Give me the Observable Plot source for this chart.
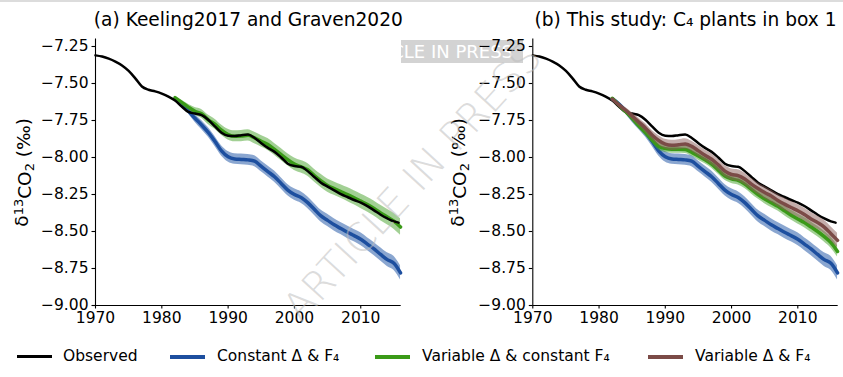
<!DOCTYPE html>
<html>
<head>
<meta charset="utf-8">
<script src="https://cdn.jsdelivr.net/npm/d3@7"></script>
<script src="https://cdn.jsdelivr.net/npm/@observablehq/plot@0.6"></script>
<style>
  html, body { margin: 0; padding: 0; background: #fff; }
  #wrap { position: relative; width: 843px; height: 377px; overflow: hidden; font-family: "DejaVu Sans", sans-serif; }
  .abs { position: absolute; }
  .leg-text { position: absolute; font-size: 15.5px; line-height: 16px; color: #000; white-space: nowrap; font-family: "DejaVu Sans"; }
  .leg-line { position: absolute; }
</style>
</head>
<body>
<div id="wrap"></div>
<script>
// ---------------- data ----------------
const obsYears = [1970,1971,1972,1973,1974,1975,1976,1977,1978,1979,1980,1981,1982,1983,1984,1985,1986,1987,1988,1989,1990,1991,1992,1993,1994,1995,1996,1997,1998,1999,2000,2001,2002,2003,2004,2005,2006,2007,2008,2009,2010,2011,2012,2013,2014,2015,2015.7];
const observed = [-7.31,-7.318,-7.332,-7.352,-7.378,-7.415,-7.465,-7.52,-7.542,-7.553,-7.568,-7.588,-7.615,-7.655,-7.692,-7.703,-7.714,-7.745,-7.79,-7.833,-7.853,-7.855,-7.849,-7.845,-7.868,-7.903,-7.935,-7.962,-8.0,-8.042,-8.058,-8.062,-8.092,-8.132,-8.17,-8.197,-8.222,-8.247,-8.267,-8.287,-8.305,-8.328,-8.357,-8.387,-8.412,-8.432,-8.44];

const modelYears = [1982,1983,1984,1985,1986,1987,1988,1989,1990,1991,1992,1993,1994,1995,1996,1997,1998,1999,2000,2001,2002,2003,2004,2005,2006,2007,2008,2009,2010,2011,2012,2013,2014,2015,2016];

// Constant Δ & F4 (same in both panels)
const constantDF = [-7.603,-7.638,-7.685,-7.735,-7.78,-7.83,-7.89,-7.955,-7.995,-8.01,-8.013,-8.016,-8.025,-8.06,-8.095,-8.13,-8.175,-8.22,-8.25,-8.27,-8.305,-8.35,-8.395,-8.425,-8.455,-8.48,-8.505,-8.528,-8.552,-8.585,-8.618,-8.655,-8.69,-8.715,-8.78];
const constantDFSpread = [0.006,0.014,0.02,0.026,0.03,0.032,0.034,0.035,0.036,0.036,0.036,0.036,0.037,0.037,0.037,0.038,0.038,0.038,0.039,0.039,0.039,0.04,0.04,0.041,0.041,0.041,0.042,0.042,0.043,0.043,0.044,0.045,0.046,0.047,0.048];

// Variable Δ & constant F4 — panel (a) Keeling2017 and Graven2020
const varDconstF_a = [-7.595,-7.628,-7.66,-7.688,-7.705,-7.745,-7.775,-7.815,-7.845,-7.857,-7.855,-7.85,-7.868,-7.89,-7.912,-7.945,-7.98,-8.015,-8.045,-8.063,-8.083,-8.122,-8.158,-8.19,-8.21,-8.23,-8.25,-8.272,-8.295,-8.318,-8.345,-8.375,-8.402,-8.43,-8.47];
const varDconstF_aSpread = [0.006,0.014,0.02,0.026,0.03,0.032,0.034,0.035,0.036,0.037,0.038,0.038,0.039,0.039,0.04,0.04,0.041,0.041,0.042,0.042,0.043,0.043,0.044,0.044,0.045,0.046,0.047,0.048,0.049,0.05,0.051,0.052,0.053,0.054,0.056];

// Variable Δ & constant F4 — panel (b) this study
const varDconstF_b = [-7.6,-7.645,-7.69,-7.735,-7.785,-7.83,-7.88,-7.925,-7.94,-7.945,-7.945,-7.946,-7.965,-7.99,-8.015,-8.045,-8.085,-8.125,-8.145,-8.155,-8.18,-8.215,-8.25,-8.28,-8.305,-8.33,-8.36,-8.39,-8.415,-8.44,-8.47,-8.5,-8.535,-8.575,-8.635];
const varDconstF_bSpread = [0.005,0.01,0.014,0.018,0.021,0.023,0.024,0.025,0.026,0.026,0.027,0.027,0.027,0.028,0.028,0.028,0.029,0.029,0.03,0.03,0.03,0.031,0.031,0.032,0.032,0.032,0.033,0.033,0.034,0.034,0.035,0.035,0.036,0.037,0.038];

// Variable Δ & F4 — panel (b)
const varDF = [-7.605,-7.645,-7.68,-7.72,-7.76,-7.8,-7.848,-7.885,-7.91,-7.918,-7.914,-7.908,-7.925,-7.955,-7.985,-8.012,-8.05,-8.092,-8.115,-8.122,-8.145,-8.18,-8.21,-8.237,-8.26,-8.29,-8.315,-8.338,-8.36,-8.385,-8.415,-8.44,-8.47,-8.515,-8.56];
const varDFSpread = [0.006,0.012,0.018,0.023,0.026,0.029,0.031,0.032,0.033,0.034,0.034,0.035,0.035,0.036,0.036,0.037,0.037,0.038,0.038,0.039,0.039,0.04,0.04,0.041,0.041,0.042,0.042,0.043,0.043,0.044,0.044,0.045,0.046,0.047,0.048];

const xTicks = [1970,1980,1990,2000,2010];
const yTicks = [-7.25,-7.5,-7.75,-8.0,-8.25,-8.5,-8.75,-9.0];
const titleA = "(a) Keeling2017 and Graven2020";
const titleB = "(b) This study: C\u2084 plants in box 1";
const yLabel = "\u03b4\u00b9\u00b3CO\u2082 (\u2030)";
const legendLabels = ["Observed", "Constant \u0394 & F\u2084", "Variable \u0394 & constant F\u2084", "Variable \u0394 & F\u2084"];

// ---------------- styling ----------------
const C = {
  obs: "#000000",
  blue: "#1d4f9f", blueBand: "#2a5daa",
  green: "#3a9a18", greenBand: "#46a12a",
  brown: "#7b4b47", brownBand: "#8a5b57"
};
const TICK_FS = 15.5;
const fmtY = d3.format(".2f");

const obsData = obsYears.map((x, i) => ({x, y: observed[i]}));
const mk = (vals, spread) => modelYears.map((x, i) => ({x, y: vals[i], lo: vals[i] - spread[i], hi: vals[i] + spread[i]}));
const blueData = mk(constantDF, constantDFSpread);
const greenA = mk(varDconstF_a, varDconstF_aSpread);
const greenB = mk(varDconstF_b, varDconstF_bSpread);
const brownData = mk(varDF, varDFSpread);

const curve = "monotone-x";
function band(data, fill, op) { return Plot.areaY(data, {x: "x", y1: "lo", y2: "hi", fill, fillOpacity: op, curve}); }
function line(data, stroke, w) { return Plot.line(data, {x: "x", y: "y", stroke, strokeWidth: w, curve}); }

function panel(opts) {
  const {width, marginLeft, marginRight, title, ylabelX, marks} = opts;
  const svg = Plot.plot({
    width, height: 330,
    marginLeft, marginRight, marginTop: 38.6, marginBottom: 25,
    style: {fontFamily: "DejaVu Sans", fontSize: "15.5px", background: "transparent", color: "#000", overflow: "visible"},
    x: {domain: [1970, 2016.1], label: null},
    y: {domain: [-9, -7.2], label: null},
    marks: [
      ...marks,
      Plot.axisX({ticks: xTicks, tickFormat: () => "", tickSize: 3.5, label: null, stroke: "#000", strokeWidth: 1.1}),
      Plot.axisY({ticks: yTicks, tickFormat: () => "", tickSize: 3.5, label: null, stroke: "#000", strokeWidth: 1.1}),
      Plot.text(xTicks, {x: d => d, frameAnchor: "bottom", lineAnchor: "top", dy: 6.5, text: d => String(d), fontSize: TICK_FS, fill: "#000"}),
      Plot.text(yTicks, {y: d => d, frameAnchor: "left", textAnchor: "end", lineAnchor: "middle", dx: -7, text: d => fmtY(d), fontSize: TICK_FS, fill: "#000"}),
      Plot.ruleX([1970], {stroke: "#000", strokeWidth: 1.1}),
      Plot.ruleY([-9], {stroke: "#000", strokeWidth: 1.1}),
      Plot.text([title], {frameAnchor: "top", lineAnchor: "bottom", dy: -12.6, fontSize: 18.6, fill: "#000"}),
      Plot.text([yLabel], {frameAnchor: "left", textAnchor: "middle", lineAnchor: "middle", rotate: -90, dx: ylabelX - marginLeft, fontSize: 18.5, fill: "#000"})
    ]
  });
  // typeset the y label with real super/subscripts (still text)
  svg.querySelectorAll("text").forEach(t => {
    if (t.textContent === yLabel) {
      t.textContent = "";
      const parts = [["\u03b4", 0, null], ["13", -0.42, "70%"], ["CO", 0.42, null], ["2", 0.22, "70%"], [" (\u2030)", -0.22, null]];
      for (const [s, dy, fs] of parts) {
        const ts = document.createElementNS("http://www.w3.org/2000/svg", "tspan");
        ts.textContent = s;
        if (dy) ts.setAttribute("dy", dy + "em");
        if (fs) ts.setAttribute("font-size", fs);
        t.appendChild(ts);
      }
    }
  });
  return svg;
}

const wrap = document.getElementById("wrap");

// top grey strip
const strip = document.createElement("div");
strip.className = "abs";
Object.assign(strip.style, {left: "0px", top: "0px", width: "843px", height: "2px", background: "#dcdcdc"});
wrap.appendChild(strip);

// "ARTICLE IN PRESS" header box (left part hidden behind panel a)
const box = document.createElement("div");
box.className = "abs";
Object.assign(box.style, {left: "401px", top: "40px", width: "122px", height: "23px", background: "#d3d3d3", overflow: "hidden"});
const boxText = document.createElement("div");
boxText.className = "abs";
boxText.textContent = "ARTICLE IN PRESS";
Object.assign(boxText.style, {right: "10px", top: "1px", fontSize: "18px", lineHeight: "21px", color: "#fff", whiteSpace: "nowrap", fontFamily: "DejaVu Sans"});
box.appendChild(boxText);
wrap.appendChild(box);

const pa = panel({
  width: 421, marginLeft: 95, marginRight: 20.3, title: titleA, ylabelX: 22,
  marks: [
    band(blueData, C.blueBand, 0.55),
    band(greenA, C.greenBand, 0.5),
    line(blueData, C.blue, 3.5),
    line(greenA, C.green, 3.5),
    line(obsData, C.obs, 2.5)
  ]
});
pa.style.position = "absolute"; pa.style.left = "0px"; pa.style.top = "0px";
wrap.appendChild(pa);

const pb = panel({
  width: 422, marginLeft: 111.3, marginRight: 5.3, title: titleB, ylabelX: 36.5,
  marks: [
    line(obsData, C.obs, 2.5),
    band(blueData, C.blueBand, 0.55),
    line(blueData, C.blue, 3.5),
    band(greenB, C.greenBand, 0.5),
    line(greenB, C.green, 3.5),
    band(brownData, C.brownBand, 0.5),
    line(brownData, C.brown, 3.5)
  ]
});
pb.style.position = "absolute"; pb.style.left = "421px"; pb.style.top = "0px";
wrap.appendChild(pb);

// legend
const legendItems = [
  {color: C.obs, w: 2.5, lx: 17, lw: 35, tx: 63},
  {color: C.blue, w: 4, lx: 170, lw: 35, tx: 217},
  {color: C.green, w: 4, lx: 375, lw: 35, tx: 422},
  {color: C.brown, w: 4, lx: 648, lw: 35, tx: 695}
];
const legendY = 356.5;
legendItems.forEach((it, i) => {
  const ln = document.createElement("div");
  ln.className = "leg-line";
  Object.assign(ln.style, {left: it.lx + "px", top: (legendY - it.w / 2) + "px", width: it.lw + "px", height: it.w + "px", background: it.color});
  wrap.appendChild(ln);
  const t = document.createElement("div");
  t.className = "leg-text";
  t.textContent = legendLabels[i];
  Object.assign(t.style, {left: it.tx + "px", top: (legendY - 8.5) + "px"});
  wrap.appendChild(t);
});

// diagonal watermark
const wm = document.createElement("div");
wm.className = "abs";
wm.textContent = "ARTICLE IN PRESS";
Object.assign(wm.style, {left: "412px", top: "182px", fontSize: "40px", color: "rgba(190,190,190,0.55)", whiteSpace: "nowrap", transform: "translate(-50%,-50%) rotate(-47.5deg)", fontFamily: "DejaVu Sans", fontWeight: "300", pointerEvents: "none"});
wrap.appendChild(wm);
</script>
</body>
</html>
